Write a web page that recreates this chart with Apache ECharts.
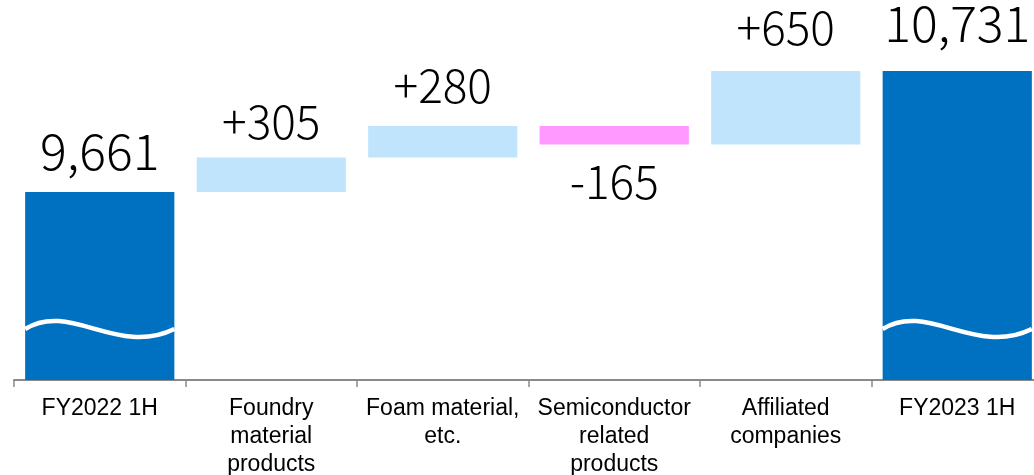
<!DOCTYPE html>
<html>
<head>
<meta charset="utf-8">
<script src="https://cdn.jsdelivr.net/npm/echarts@6/dist/echarts.min.js"></script>
<style>html,body{margin:0;padding:0;background:#fff;}#c{width:1034px;height:475px;}</style>
</head>
<body>
<div id="c"></div>
<script>
const categories = ['FY2022 1H', 'Foundry\nmaterial\nproducts', 'Foam material,\netc.', 'Semiconductor\nrelated\nproducts', 'Affiliated\ncompanies', 'FY2023 1H'];
const values = [9661, 305, 280, -165, 650, 10731];
const isTotal = [true, false, false, false, false, true];
const valueLabels = ['9,661', '+305', '+280', '-165', '+650', '10,731'];
const yMin = 8000;
const yMax = 11200;

// styling (label gap to bar, px; label font size)
const labelDistance = [16, 13, 17, 14, 21, 23];
const labelSize = [50, 46, 46, 46, 46, 50];

const COLOR_TOTAL = '#0070C0', COLOR_UP = '#C0E4FC', COLOR_DOWN = '#FF99FF';

const baseData = [], barData = [];
let running = 0;
values.forEach((v, i) => {
  let base, h, color;
  if (isTotal[i]) { base = 0; h = v; running = v; color = COLOR_TOTAL; }
  else if (v >= 0) { base = running; h = v; running += v; color = COLOR_UP; }
  else { running += v; base = running; h = -v; color = COLOR_DOWN; }
  baseData.push(base);
  barData.push({
    value: h,
    itemStyle: { color: color },
    label: {
      show: true,
      position: v < 0 ? 'bottom' : 'top',
      distance: labelDistance[i],
      fontSize: labelSize[i],
      formatter: valueLabels[i]
    }
  });
});
const waveData = isTotal.map((t, i) => t ? [i, yMin] : null).filter(d => d);

const chart = echarts.init(document.getElementById('c'));
chart.setOption({
  animation: false,
  grid: { left: 14, top: 18, width: 1029, height: 362, outerBoundsMode: 'none', containLabel: false },
  xAxis: {
    type: 'category',
    data: categories,
    axisLine: { lineStyle: { color: '#8a8a8a', width: 2 } },
    axisTick: { show: true, length: 7, lineStyle: { color: '#8a8a8a', width: 1.5 } },
    axisLabel: {
      interval: 0, color: '#000', fontFamily: 'Liberation Sans, Arial, sans-serif',
      fontSize: 23, lineHeight: 28, margin: 15
    }
  },
  yAxis: { type: 'value', min: yMin, max: yMax, show: false, splitLine: { show: false } },
  series: [
    {
      type: 'bar', stack: 'w', data: baseData, barCategoryGap: '13%',
      itemStyle: { color: 'transparent' }, silent: true
    },
    {
      type: 'bar', stack: 'w', data: barData, barCategoryGap: '13%',
      label: {
        color: '#000', fontFamily: 'Noto Sans CJK JP', fontSize: 46, fontWeight: 300
      }
    },
    {
      type: 'custom',
      data: waveData,
      encode: { x: 0, y: 1 },
      z: 10,
      renderItem: function (params, api) {
        const idx = api.value(0);
        const p = api.coord([idx, api.value(1)]);
        const size = api.size([1, 0]);
        const bw = size[0] * 0.87;
        const x0 = p[0] - bw / 2;
        const c = p[1] - 51;
        return {
          type: 'bezierCurve',
          shape: { x1: x0, y1: c, cpx1: x0 + bw * 0.3, cpy1: c - 28, cpx2: x0 + bw * 0.62, cpy2: c + 28, x2: x0 + bw, y2: c },
          style: { stroke: '#fff', lineWidth: 4.5, fill: null }
        };
      }
    }
  ]
});
</script>
</body>
</html>
